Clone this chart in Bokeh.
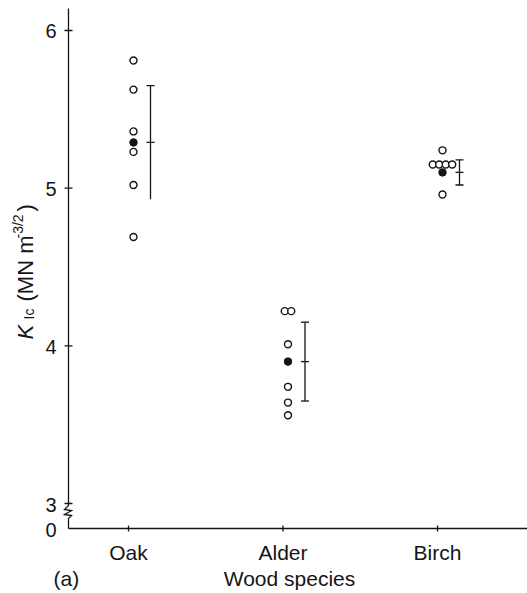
import math
from bokeh.plotting import figure
from bokeh.models import Label
from bokeh.embed import file_html
from bokeh.resources import INLINE

# ---------------- data ----------------
species = ["Oak", "Alder", "Birch"]
oak_values = [5.81, 5.625, 5.36, 5.23, 5.02, 4.69]
alder_values = [4.22, 4.22, 4.01, 3.74, 3.64, 3.56]
birch_values = [5.24, 5.15, 5.15, 5.15, 5.15, 4.96]
mean_values = [5.29, 3.90, 5.10]
spread_values = [0.36, 0.25, 0.08]
bottom_cap = [False, True, True]
y_tick_values = [3, 4, 5, 6]
y_tick_labels = ["3", "4", "5", "6"]
zero_label = "0"

# ---------------- geometry (page pixels) ----------------
FONT = "Liberation Sans"
INK = "#151515"
K = 157.67          # px per y unit
S = 154.5           # px per category step
W, H = 527, 593
AX_X = 68           # pixel x of y axis
OAK_X = 128         # pixel x of first category
Y6 = 30             # pixel y of value 6
Y3 = 503            # pixel y of value 3
YZ = 528            # pixel y of the zero line
BASE_FIX = 7        # label baseline correction (px)

def dx(px):
    return px / S

def dy(px):
    return px / K

Y0 = 3 - dy(YZ - Y3)
y_end = 6 + dy(Y6)
y_start = Y0 - dy(H - YZ)
x_start = 1 - dx(OAK_X)
x_end = x_start + dx(W)
XA = 1 - dx(OAK_X - AX_X)

def X(px):            # page pixel x -> data
    return x_start + dx(px)

def Y(py):            # page pixel y -> data
    return y_end - dy(py)

p = figure(width=W, height=H, output_backend="svg", toolbar_location=None,
           x_range=(x_start, x_end), y_range=(y_start, y_end),
           min_border=0)
p.outline_line_color = None
p.xaxis.visible = False
p.yaxis.visible = False
p.xgrid.visible = False
p.ygrid.visible = False
p.background_fill_color = "white"
p.border_fill_color = "white"

# ---------------- hand-drawn axes with break ----------------
LW = 1.3
p.line([XA, XA], [Y(8), 3], line_color=INK, line_width=LW)
zig = [(0, 0), (0, 2), (-4, 6), (3, 7), (-4, 11), (3, 12), (0, 15), (0, 25)]
p.line([XA + dx(a) for a, b in zig], [3 - dy(b) for a, b in zig],
       line_color=INK, line_width=LW, line_join="miter")
p.line([XA, x_end], [Y0, Y0], line_color=INK, line_width=LW)
p.segment(x0=[XA - dx(4)] * len(y_tick_values), x1=[XA + dx(4)] * len(y_tick_values),
          y0=y_tick_values, y1=y_tick_values, line_color=INK, line_width=LW)
cats = [i + 1 for i in range(len(species))]
p.segment(x0=cats, x1=cats, y0=[Y0 - dy(3)] * 3, y1=[Y0 + dy(3)] * 3,
          line_color=INK, line_width=LW)

# tick labels
for v, t in zip([Y0] + y_tick_values, [zero_label] + y_tick_labels):
    p.add_layout(Label(x=XA - dx(12), y=v, y_offset=-1, text=t, text_align="right",
                       text_baseline="middle", text_font=FONT, text_font_size="20px",
                       text_color=INK))
for c, t in zip(cats, species):
    p.add_layout(Label(x=c, y=Y(559 - BASE_FIX), text=t, text_align="center",
                       text_baseline="alphabetic", text_font=FONT,
                       text_font_size="21px", text_color=INK))

# ---------------- points ----------------
PT_OFF = dx(5)
BAR_OFF = dx(22)
STEP = dx(6.5)

xs, ys = [], []
for i, vals in enumerate([oak_values, alder_values, birch_values]):
    cx = cats[i] + PT_OFF
    seen = {}
    for v in vals:
        seen[v] = seen.get(v, 0) + 1
    for v, n in seen.items():
        for j in range(n):
            xs.append(cx + (j - (n - 1) / 2) * STEP)
            ys.append(v)

p.scatter(xs, ys, marker="circle", size=7, fill_color="white",
          line_color=INK, line_width=1.4)
p.scatter([c + PT_OFF for c in cats], mean_values, marker="circle",
          size=7.5, fill_color=INK, line_color=INK, line_width=1)

# ---------------- error bars ----------------
bx = [c + BAR_OFF for c in cats]
tops = [m + s for m, s in zip(mean_values, spread_values)]
bots = [m - s for m, s in zip(mean_values, spread_values)]
p.segment(x0=bx, x1=bx, y0=bots, y1=tops, line_color=INK, line_width=1.3)
HW = dx(4)
p.segment(x0=[b - HW for b in bx], x1=[b + HW for b in bx], y0=tops, y1=tops,
          line_color=INK, line_width=1.3)
p.segment(x0=[b - HW for b in bx], x1=[b + HW for b in bx], y0=mean_values, y1=mean_values,
          line_color=INK, line_width=1.3)
cb = [i for i in range(3) if bottom_cap[i]]
p.segment(x0=[bx[i] - HW for i in cb], x1=[bx[i] + HW for i in cb],
          y0=[bots[i] for i in cb], y1=[bots[i] for i in cb],
          line_color=INK, line_width=1.3)

# ---------------- axis titles ----------------
pieces = [
    ("K", 339, 32, "22px", "italic"),
    ("Ic", 319, 35, "14px", "normal"),
    ("(MN m", 301, 32, "22px", "normal"),
    ("-3/2", 238, 24, "14px", "normal"),
    (")", 211, 32, "22px", "normal"),
]
for txt, py, px, fs, st in pieces:
    p.add_layout(Label(x=X(px - BASE_FIX), y=Y(py), text=txt,
                       angle=math.pi / 2, text_align="left", text_baseline="alphabetic",
                       text_font=FONT, text_font_size=fs, text_font_style=st,
                       text_color=INK))

p.add_layout(Label(x=X(289), y=Y(585 - BASE_FIX), text="Wood species",
                   text_align="center", text_baseline="alphabetic",
                   text_font=FONT, text_font_size="21px", text_color=INK))
p.add_layout(Label(x=X(53), y=Y(585 - BASE_FIX), text="(a)",
                   text_align="left", text_baseline="alphabetic",
                   text_font=FONT, text_font_size="21px", text_color=INK))

open("out.html", "w").write(file_html(p, INLINE))
